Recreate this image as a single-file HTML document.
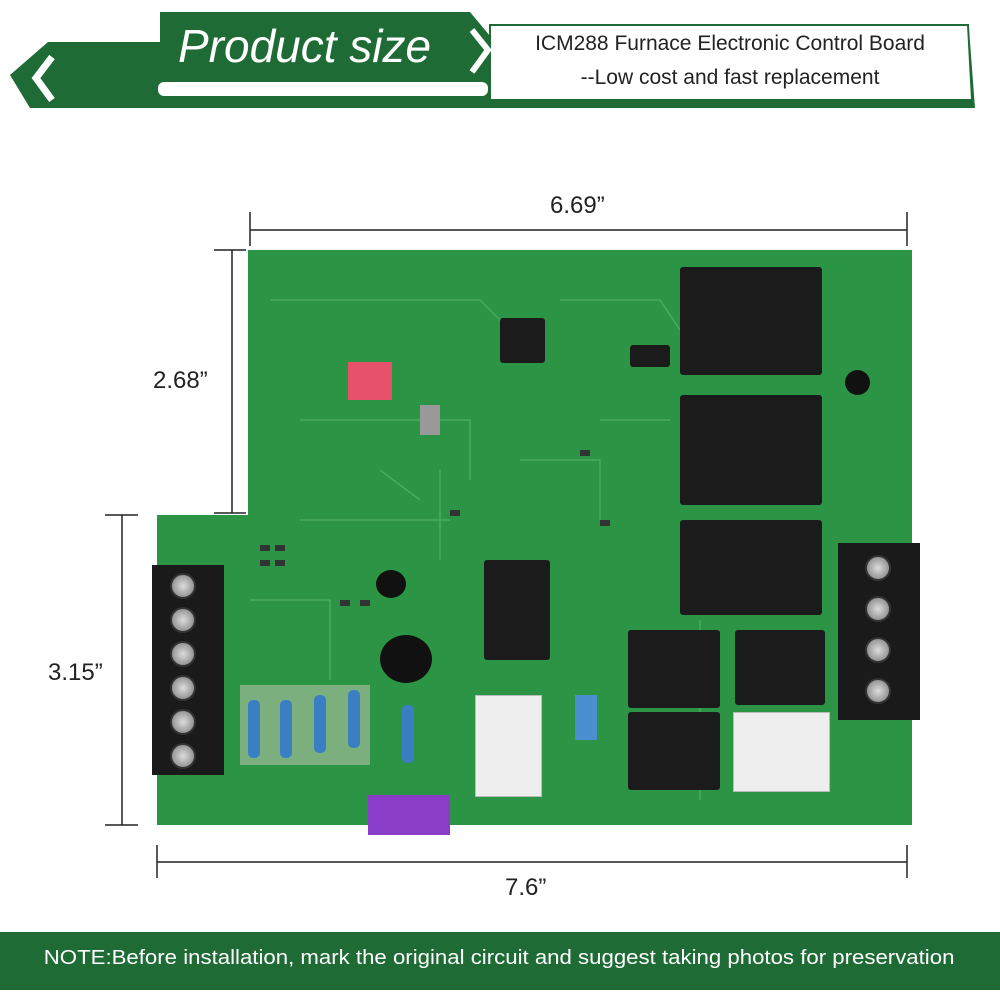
<!DOCTYPE html>
<html><head><meta charset="utf-8"><style>
body{margin:0;width:1000px;height:1000px;background:#fff;position:relative;overflow:hidden;font-family:"Liberation Sans",sans-serif}
.a{position:absolute}
.relay{position:absolute;background:#1b1b1b;border-radius:3px}
.tb{position:absolute;background:#1a1a1a}
.sc{position:absolute;width:22px;height:22px;border-radius:50%;background:radial-gradient(#ddd,#777);border:2px solid #333}
.res{position:absolute;width:12px;height:58px;background:#3a7fc4;border-radius:5px}
.pad{position:absolute;background:#c9c9b8}
.sm{position:absolute;background:#333;width:10px;height:6px}
</style></head><body>
<svg class="a" style="left:0;top:0" width="1000" height="1000">
<polygon points="48,42 160,42 160,12 470,12 495,42 970,42 975,108 30,108 10,75" fill="#1e6b35"/>
<polygon points="490,25 968,25 972,100 490,100" fill="#fff" stroke="#1e6b35" stroke-width="2"/>
<rect x="158" y="82" width="330" height="14" rx="6" fill="#fff"/>
<polyline points="52,57 36,78 52,100" fill="none" stroke="#fff" stroke-width="7"/>
<polyline points="472,30 488,50 472,72" fill="none" stroke="#fff" stroke-width="6"/>
<polygon points="248,250 912,250 912,825 157,825 157,515 248,515" fill="#2c9445"/>
<g stroke="#5dbb6e" stroke-width="1.5" fill="none" opacity="0.6">
<path d="M270,300 L480,300 L520,340 M300,420 L470,420 L470,480 M560,300 L660,300 L680,330 M300,520 L450,520 M250,600 L330,600 L330,680 M600,420 L670,420 M440,470 L440,560 M520,460 L600,460 L600,520 M700,620 L700,800 M380,470 L420,500"/>
</g>
<g stroke="#222" stroke-width="1.5">
<line x1="250" y1="230" x2="907" y2="230"/><line x1="250" y1="212" x2="250" y2="246"/><line x1="907" y1="212" x2="907" y2="246"/>
<line x1="232" y1="250" x2="232" y2="513"/><line x1="214" y1="250" x2="246" y2="250"/><line x1="214" y1="513" x2="246" y2="513"/>
<line x1="122" y1="515" x2="122" y2="825"/><line x1="105" y1="515" x2="138" y2="515"/><line x1="105" y1="825" x2="138" y2="825"/>
<line x1="157" y1="862" x2="907" y2="862"/><line x1="157" y1="845" x2="157" y2="878"/><line x1="907" y1="845" x2="907" y2="878"/>
</g>
</svg>
<div class="a" style="left:178px;top:18px;color:#fff;font-size:46px;font-style:italic;line-height:56px">Product size</div>
<div class="a" style="left:492px;top:32px;width:476px;text-align:center;font-size:21px;color:#222">ICM288 Furnace Electronic Control Board</div>
<div class="a" style="left:492px;top:66px;width:476px;text-align:center;font-size:21px;color:#222">--Low cost and fast replacement</div>
<div class="a" style="left:550px;top:192px;font-size:24px;color:#222">6.69”</div>
<div class="a" style="left:153px;top:367px;font-size:24px;color:#222">2.68”</div>
<div class="a" style="left:48px;top:659px;font-size:24px;color:#222">3.15”</div>
<div class="a" style="left:505px;top:874px;font-size:24px;color:#222">7.6”</div>
<div class="relay" style="left:680px;top:267px;width:142px;height:108px"></div>
<div class="relay" style="left:680px;top:395px;width:142px;height:110px"></div>
<div class="relay" style="left:680px;top:520px;width:142px;height:95px"></div>
<div class="relay" style="left:628px;top:630px;width:92px;height:78px"></div>
<div class="relay" style="left:735px;top:630px;width:90px;height:75px"></div>
<div class="relay" style="left:628px;top:712px;width:92px;height:78px"></div>
<div class="relay" style="left:484px;top:560px;width:66px;height:100px"></div>
<div class="relay" style="left:500px;top:318px;width:45px;height:45px"></div>
<div class="relay" style="left:630px;top:345px;width:40px;height:22px"></div>
<div class="a" style="left:348px;top:362px;width:44px;height:38px;background:#e8516a"></div>
<div class="a" style="left:420px;top:405px;width:20px;height:30px;background:#999"></div>
<div class="sm" style="left:260px;top:545px"></div><div class="sm" style="left:275px;top:545px"></div><div class="sm" style="left:260px;top:560px"></div><div class="sm" style="left:275px;top:560px"></div>
<div class="sm" style="left:340px;top:600px"></div><div class="sm" style="left:360px;top:600px"></div><div class="sm" style="left:450px;top:510px"></div><div class="sm" style="left:580px;top:450px"></div><div class="sm" style="left:600px;top:520px"></div>
<div class="tb" style="left:152px;top:565px;width:72px;height:210px"></div>
<div class="sc" style="left:170px;top:573px"></div><div class="sc" style="left:170px;top:607px"></div><div class="sc" style="left:170px;top:641px"></div><div class="sc" style="left:170px;top:675px"></div><div class="sc" style="left:170px;top:709px"></div><div class="sc" style="left:170px;top:743px"></div>
<div class="tb" style="left:838px;top:543px;width:82px;height:177px"></div>
<div class="sc" style="left:865px;top:555px"></div><div class="sc" style="left:865px;top:596px"></div><div class="sc" style="left:865px;top:637px"></div><div class="sc" style="left:865px;top:678px"></div>
<div class="a" style="left:475px;top:695px;width:65px;height:100px;background:#eee;border:1px solid #bbb"></div>
<div class="a" style="left:733px;top:712px;width:95px;height:78px;background:#eee;border:1px solid #bbb"></div>
<div class="a" style="left:575px;top:695px;width:22px;height:45px;background:#4a8fd0"></div>
<div class="pad" style="left:240px;top:685px;width:130px;height:80px;opacity:.5"></div>
<div class="res" style="left:248px;top:700px"></div><div class="res" style="left:280px;top:700px"></div><div class="res" style="left:314px;top:695px"></div><div class="res" style="left:348px;top:690px"></div><div class="res" style="left:402px;top:705px"></div>
<div class="a" style="left:380px;top:635px;width:52px;height:48px;border-radius:50%;background:#111"></div>
<div class="a" style="left:376px;top:570px;width:30px;height:28px;border-radius:50%;background:#111"></div>
<div class="a" style="left:368px;top:795px;width:82px;height:40px;background:#8a3dc8"></div>
<div class="a" style="left:845px;top:370px;width:25px;height:25px;border-radius:50%;background:#111"></div>
<div class="a" style="left:0;top:932px;width:1000px;height:58px;background:#1e6b35"></div>
<div class="a" style="left:0;top:947px;width:1000px;text-align:center;color:#fff;font-size:20px;transform:scaleX(1.11);transform-origin:508px 0">NOTE:Before installation, mark the original circuit and suggest taking photos for preservation</div>
</body></html>
